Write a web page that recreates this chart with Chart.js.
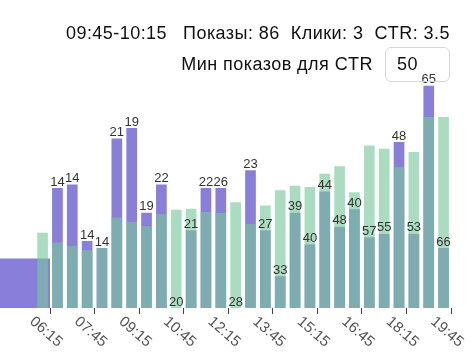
<!DOCTYPE html>
<html>
<head>
<meta charset="utf-8">
<script src="https://cdn.jsdelivr.net/npm/chart.js@4/dist/chart.umd.min.js"></script>
<style>
  html, body { margin: 0; padding: 0; background: #fff; }
  body {
    width: 475px; height: 362px; position: relative; overflow: hidden;
    font-family: "Liberation Sans", Arial, sans-serif; color: #111;
  }
  #chart { position: absolute; left: 0; top: 0; }
  .info {
    position: absolute; right: 25px; top: 24px;
    font-size: 18px; line-height: 18px; letter-spacing: 0.45px; white-space: nowrap;
  }
  .info .range { margin-right: 16px; }
  .info .gap { margin-left: 11px; }
  .min-label {
    position: absolute; right: 102px; top: 55px;
    font-size: 18px; line-height: 18px; letter-spacing: 0.45px; white-space: nowrap;
  }
  .min-input {
    position: absolute; left: 385px; top: 47px; width: 65px; height: 35px;
    box-sizing: border-box; border: 1px solid #d6d6d6; border-radius: 6px;
    padding: 0 0 0 11px; margin: 0; background: transparent;
    font: 18px "Liberation Sans", Arial, sans-serif; letter-spacing: 0.45px;
    color: #111; outline: none;
  }
</style>
</head>
<body>
<canvas id="chart" width="475" height="362"></canvas>
<div class="info"><span class="range">09:45-10:15</span><span>Показы: 86</span><span class="gap">Клики: 3</span><span class="gap">CTR: 3.5</span></div>
<div class="min-label">Мин показов для CTR</div>
<input class="min-input" type="text" value="50">
<script>
// Half-hour slots (start time of each bar)
const slotStarts = [
  '05:45', '06:15', '06:45', '07:15', '07:45', '08:15', '08:45', '09:15',
  '09:45', '10:15', '10:45', '11:15', '11:45', '12:15', '12:45', '13:15',
  '13:45', '14:15', '14:45', '15:15', '15:45', '16:15', '16:45', '17:15',
  '17:45', '18:15', '18:45', '19:15'
];
// Impressions per slot (green bars)
const impressions = [
  69, 60, 57, 53, 55, 83, 79, 75,
  86, 90, 91, 88, 87, 97, 77, 94,
  108, 112, 111, 123, 130, 106, 149, 146,
  129, 143, 175, 175
];
// CTR per slot (purple bars)
const ctr = [
  null, 3.4, 3.5, 1.9, 1.7, 4.8, 5.1, 2.7,
  3.5, 0, 2.2, 3.4, 3.4, 0, 3.9, 2.2,
  0.9, 2.7, 1.8, 3.3, 2.3, 2.8, 2.0, 2.1,
  4.7, 2.1, 6.3, 1.7
];
// Numbers printed over the purple bars
const barLabels = [
  null, 14, 14, 14, 14, 21, 19, 19,
  22, 20, 21, 22, 26, 28, 23, 27,
  33, 39, 40, 44, 48, 40, 57, 55,
  48, 53, 65, 66
];
const tickLabels = ['06:15', '07:45', '09:15', '10:45', '12:15', '13:45', '15:15', '16:45', '18:15', '19:45'];

// CTR of the early period, before the first half-hour slot
const earlyWindow = ['04:30', '06:15'];
const earlyCtr = 1.4;

// Visible time window of the chart
const axisStart = '04:34';
const axisEnd = '19:45';

const SLOT_MIN = 30;
const PURPLE = 'rgb(137, 127, 219)';
const GREEN = 'rgba(118, 200, 152, 0.62)';
const FONT = '"Liberation Sans", Arial, sans-serif';

function toMin(hhmm) {
  const [h, m] = hhmm.split(':').map(Number);
  return h * 60 + m;
}

const centers = slotStarts.map(s => toMin(s) + SLOT_MIN / 2);

// Value labels at the top of each purple bar
const valueLabelPlugin = {
  id: 'valueLabels',
  afterDatasetsDraw(chart) {
    const meta = chart.getDatasetMeta(1);
    const ctx = chart.ctx;
    ctx.save();
    ctx.font = '13px ' + FONT;
    ctx.fillStyle = '#333';
    ctx.textAlign = 'center';
    ctx.textBaseline = 'bottom';
    meta.data.forEach((bar, i) => {
      if (barLabels[i] == null || !isFinite(bar.y)) return;
      ctx.fillText(String(barLabels[i]), bar.x, bar.y + 0.5);
    });
    ctx.restore();
  }
};

// Tick labels slanted downwards to the right
const slantedTicksPlugin = {
  id: 'slantedTicks',
  afterDraw(chart) {
    const xs = chart.scales.x;
    const ctx = chart.ctx;
    ctx.save();
    ctx.font = '15px ' + FONT;
    ctx.fillStyle = '#555';
    ctx.textAlign = 'center';
    ctx.textBaseline = 'middle';
    xs.ticks.forEach((t, i) => {
      const x = xs.getPixelForTick(i);
      ctx.save();
      ctx.translate(x - 4, xs.top + 24);
      ctx.rotate(41 * Math.PI / 180);
      ctx.fillText(tickLabels[i], 0, 0);
      ctx.restore();
    });
    ctx.restore();
  }
};

new Chart(document.getElementById('chart'), {
  type: 'bar',
  data: {
    datasets: [
      {
        type: 'line',
        label: 'CTR ранее',
        data: earlyWindow.map(t => ({ x: toMin(t), y: earlyCtr })),
        yAxisID: 'y1',
        backgroundColor: PURPLE,
        borderWidth: 0,
        pointRadius: 0,
        fill: 'origin',
        order: 3
      },
      {
        label: 'CTR',
        data: centers.map((x, i) => ({ x: x, y: ctr[i] })),
        yAxisID: 'y1',
        backgroundColor: PURPLE,
        borderWidth: 0,
        barPercentage: 0.9,
        grouped: false,
        order: 2
      },
      {
        label: 'Показы',
        data: centers.map((x, i) => ({ x: x, y: impressions[i] })),
        yAxisID: 'y',
        backgroundColor: GREEN,
        borderWidth: 0,
        barPercentage: 0.9,
        grouped: false,
        order: 1
      }
    ]
  },
  options: {
    responsive: false,
    animation: false,
    devicePixelRatio: 1,
    layout: { padding: { top: 68, right: 24, bottom: 48, left: 0 } },
    plugins: { legend: { display: false }, tooltip: { enabled: false } },
    scales: {
      x: {
        type: 'linear',
        min: toMin(axisStart),
        max: toMin(axisEnd),
        bounds: 'data',
        offset: false,
        afterBuildTicks: scale => {
          scale.ticks = tickLabels.map(t => ({ value: toMin(t) }));
        },
        grid: {
          display: true, drawOnChartArea: false, drawTicks: true,
          tickLength: 6, tickColor: '#444', offset: false
        },
        border: { display: false },
        ticks: { display: false }
      },
      y: { display: false, min: 0, max: 220 },
      y1: { display: false, min: 0, max: 6.8 }
    }
  },
  plugins: [valueLabelPlugin, slantedTicksPlugin]
});
</script>
</body>
</html>
